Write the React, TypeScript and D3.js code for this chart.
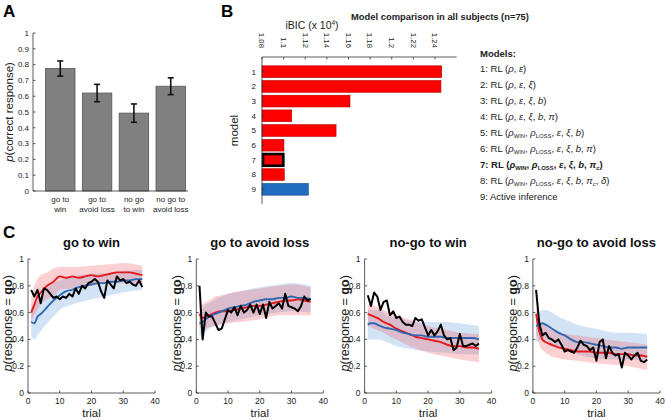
import React from 'react'
import * as d3 from 'd3'

// ---- panel A: accuracy per condition ----
const CAT_LINES_A = [['go to', 'win'], ['go to', 'avoid loss'], ['no go', 'to win'], ['no go to', 'avoid loss']]
const P_CORRECT = [0.775, 0.62, 0.493, 0.663]
const P_CORRECT_ERR = [0.048, 0.055, 0.058, 0.053]

// ---- panel B: model comparison ----
const MODELS = [1, 2, 3, 4, 5, 6, 7, 8, 9]
const IBIC = [1.2462, 1.2455, 1.1614, 1.1075, 1.1485, 1.1003, 1.0997, 1.1006, 1.1229]
const IBIC_TICKS = [1.08, 1.1, 1.12, 1.14, 1.16, 1.18, 1.2, 1.22, 1.24]
const BEST_MODEL = 7
const AI_MODEL = 9

type Seg = [string, string]
const MODEL_LABELS: Seg[][] = [
  [['1: RL (', ''], ['ρ', 'i'], [', ', ''], ['ε', 'i'], [')', '']],
  [['2: RL (', ''], ['ρ', 'i'], [', ', ''], ['ε', 'i'], [', ', ''], ['ξ', 'i'], [')', '']],
  [['3: RL (', ''], ['ρ', 'i'], [', ', ''], ['ε', 'i'], [', ', ''], ['ξ', 'i'], [', ', ''], ['b', 'i'], [')', '']],
  [['4: RL (', ''], ['ρ', 'i'], [', ', ''], ['ε', 'i'], [', ', ''], ['ξ', 'i'], [', ', ''], ['b', 'i'], [', ', ''], ['π', 'i'], [')', '']],
  [['5: RL (', ''], ['ρ', 'i'], ['WIN', 's'], [', ', ''], ['ρ', 'i'], ['LOSS', 's'], [', ', ''], ['ε', 'i'], [', ', ''], ['ξ', 'i'], [', ', ''], ['b', 'i'], [')', '']],
  [['6: RL (', ''], ['ρ', 'i'], ['WIN', 's'], [', ', ''], ['ρ', 'i'], ['LOSS', 's'], [', ', ''], ['ε', 'i'], [', ', ''], ['ξ', 'i'], [', ', ''], ['b', 'i'], [', ', ''], ['π', 'i'], [')', '']],
  [['7: RL (', ''], ['ρ', 'i'], ['WIN', 's'], [', ', ''], ['ρ', 'i'], ['LOSS', 's'], [', ', ''], ['ε', 'i'], [', ', ''], ['ξ', 'i'], [', ', ''], ['b', 'i'], [', ', ''], ['π', 'i'], ['c', 'si'], [')', '']],
  [['8: RL (', ''], ['ρ', 'i'], ['WIN', 's'], [', ', ''], ['ρ', 'i'], ['LOSS', 's'], [', ', ''], ['ε', 'i'], [', ', ''], ['ξ', 'i'], [', ', ''], ['b', 'i'], [', ', ''], ['π', 'i'], ['c', 'si'], [', ', ''], ['δ', 'i'], [')', '']],
  [['9: Active inference', '']],
]

// ---- panel C: p(go) over trials ----
const CONDITIONS = ['go to win', 'go to avoid loss', 'no-go to win', 'no-go to avoid loss']
const MODEL_T = [1, 2, 3, 4, 6, 8, 10, 12, 14, 16, 18, 20, 22, 24, 26, 28, 30, 32, 34, 36]
const BAND_T = [1, 2, 3, 4, 6, 8, 10, 14, 20, 26, 30, 36]

const DATA_GW = [0.77, 0.72, 0.77, 0.67, 0.78, 0.77, 0.74, 0.71, 0.72, 0.70, 0.72, 0.71, 0.74, 0.72, 0.78, 0.74, 0.80, 0.78, 0.82, 0.83, 0.85, 0.83, 0.76, 0.71, 0.84, 0.81, 0.78, 0.87, 0.84, 0.85, 0.82, 0.83, 0.81, 0.80, 0.84, 0.79]
const DATA_GAL = [0.80, 0.40, 0.60, 0.57, 0.57, 0.52, 0.47, 0.48, 0.55, 0.62, 0.60, 0.64, 0.58, 0.65, 0.60, 0.62, 0.66, 0.60, 0.66, 0.59, 0.66, 0.56, 0.68, 0.63, 0.65, 0.67, 0.63, 0.74, 0.65, 0.64, 0.63, 0.61, 0.65, 0.72, 0.69, 0.70]
const DATA_NGW = [0.73, 0.65, 0.75, 0.72, 0.62, 0.68, 0.69, 0.58, 0.61, 0.56, 0.57, 0.53, 0.51, 0.51, 0.50, 0.56, 0.54, 0.55, 0.49, 0.43, 0.47, 0.43, 0.46, 0.51, 0.43, 0.40, 0.41, 0.32, 0.34, 0.44, 0.35, 0.35, 0.36, 0.37, 0.35, 0.37]
const DATA_NGAL = [0.77, 0.52, 0.43, 0.45, 0.41, 0.40, 0.38, 0.40, 0.36, 0.31, 0.32, 0.31, 0.30, 0.34, 0.39, 0.36, 0.35, 0.32, 0.34, 0.24, 0.38, 0.40, 0.26, 0.35, 0.30, 0.28, 0.29, 0.19, 0.30, 0.28, 0.25, 0.28, 0.30, 0.24, 0.23, 0.25]

const RL_GW = [0.60, 0.66, 0.72, 0.75, 0.80, 0.83, 0.87, 0.86, 0.87, 0.86, 0.87, 0.88, 0.87, 0.88, 0.89, 0.90, 0.90, 0.90, 0.89, 0.88]
const RL_GAL = [0.59, 0.56, 0.57, 0.58, 0.60, 0.61, 0.61, 0.62, 0.63, 0.64, 0.65, 0.65, 0.66, 0.67, 0.68, 0.69, 0.69, 0.70, 0.69, 0.68]
const RL_NGW = [0.59, 0.58, 0.57, 0.56, 0.53, 0.51, 0.48, 0.46, 0.44, 0.42, 0.41, 0.40, 0.39, 0.38, 0.36, 0.35, 0.35, 0.34, 0.34, 0.33]
const RL_NGAL = [0.59, 0.46, 0.40, 0.38, 0.36, 0.34, 0.33, 0.32, 0.31, 0.31, 0.31, 0.30, 0.30, 0.30, 0.29, 0.29, 0.29, 0.28, 0.28, 0.27]

const AI_GW = [0.53, 0.52, 0.57, 0.59, 0.64, 0.69, 0.73, 0.76, 0.77, 0.79, 0.80, 0.81, 0.82, 0.82, 0.83, 0.83, 0.84, 0.84, 0.85, 0.85]
const AI_GAL = [0.52, 0.53, 0.55, 0.57, 0.59, 0.61, 0.63, 0.64, 0.65, 0.66, 0.68, 0.69, 0.70, 0.70, 0.71, 0.71, 0.72, 0.71, 0.71, 0.70]
const AI_NGW = [0.51, 0.52, 0.52, 0.51, 0.49, 0.48, 0.47, 0.45, 0.44, 0.43, 0.43, 0.42, 0.42, 0.42, 0.41, 0.41, 0.41, 0.41, 0.41, 0.40]
const AI_NGAL = [0.50, 0.51, 0.52, 0.51, 0.48, 0.45, 0.43, 0.40, 0.38, 0.38, 0.37, 0.36, 0.35, 0.34, 0.34, 0.33, 0.34, 0.34, 0.34, 0.34]

const RL_HI_GW = [0.70, 0.80, 0.85, 0.88, 0.90, 0.93, 0.94, 0.94, 0.95, 0.96, 0.97, 0.95]
const RL_LO_GW = [0.52, 0.58, 0.62, 0.66, 0.70, 0.72, 0.77, 0.78, 0.80, 0.82, 0.82, 0.81]
const RL_HI_GAL = [0.65, 0.66, 0.68, 0.69, 0.72, 0.73, 0.74, 0.76, 0.78, 0.80, 0.81, 0.79]
const RL_LO_GAL = [0.50, 0.47, 0.48, 0.49, 0.50, 0.51, 0.52, 0.53, 0.55, 0.58, 0.58, 0.58]
const RL_HI_NGW = [0.66, 0.66, 0.65, 0.64, 0.62, 0.60, 0.58, 0.55, 0.50, 0.47, 0.45, 0.44]
const RL_LO_NGW = [0.50, 0.49, 0.48, 0.47, 0.45, 0.42, 0.40, 0.35, 0.30, 0.27, 0.25, 0.23]
const RL_HI_NGAL = [0.64, 0.56, 0.52, 0.50, 0.47, 0.45, 0.44, 0.43, 0.41, 0.39, 0.38, 0.36]
const RL_LO_NGAL = [0.45, 0.36, 0.32, 0.30, 0.27, 0.26, 0.25, 0.24, 0.22, 0.21, 0.20, 0.17]

const AI_HI_GW = [0.64, 0.66, 0.69, 0.72, 0.78, 0.82, 0.84, 0.87, 0.89, 0.90, 0.91, 0.92]
const AI_LO_GW = [0.42, 0.40, 0.43, 0.46, 0.52, 0.57, 0.62, 0.66, 0.70, 0.73, 0.75, 0.77]
const AI_HI_GAL = [0.60, 0.63, 0.66, 0.67, 0.70, 0.72, 0.74, 0.76, 0.79, 0.81, 0.82, 0.80]
const AI_LO_GAL = [0.42, 0.44, 0.46, 0.48, 0.50, 0.52, 0.53, 0.55, 0.58, 0.60, 0.61, 0.60]
const AI_HI_NGW = [0.62, 0.62, 0.62, 0.62, 0.60, 0.57, 0.56, 0.54, 0.53, 0.53, 0.52, 0.50]
const AI_LO_NGW = [0.40, 0.40, 0.40, 0.40, 0.39, 0.37, 0.35, 0.33, 0.31, 0.30, 0.29, 0.29]
const AI_HI_NGAL = [0.60, 0.61, 0.62, 0.62, 0.60, 0.57, 0.55, 0.51, 0.48, 0.45, 0.45, 0.44]
const AI_LO_NGAL = [0.38, 0.39, 0.40, 0.40, 0.37, 0.35, 0.33, 0.29, 0.26, 0.25, 0.25, 0.24]

const PANELS_C = [
  { data: DATA_GW, rl: RL_GW, ai: AI_GW, rlHi: RL_HI_GW, rlLo: RL_LO_GW, aiHi: AI_HI_GW, aiLo: AI_LO_GW },
  { data: DATA_GAL, rl: RL_GAL, ai: AI_GAL, rlHi: RL_HI_GAL, rlLo: RL_LO_GAL, aiHi: AI_HI_GAL, aiLo: AI_LO_GAL },
  { data: DATA_NGW, rl: RL_NGW, ai: AI_NGW, rlHi: RL_HI_NGW, rlLo: RL_LO_NGW, aiHi: AI_HI_NGW, aiLo: AI_LO_NGW },
  { data: DATA_NGAL, rl: RL_NGAL, ai: AI_NGAL, rlHi: RL_HI_NGAL, rlLo: RL_LO_NGAL, aiHi: AI_HI_NGAL, aiLo: AI_LO_NGAL },
]

const FONT = '"Liberation Sans", Arial, Helvetica, sans-serif'
const AX = '#333'
const RED = '#e3191c'
const BLUE = '#2f68b0'

function SegText({ segs, x, y, size, bold }: { segs: Seg[]; x: number; y: number; size: number; bold?: boolean }) {
  let shift = 0
  return (
    <text x={x} y={y} fontSize={size} fontWeight={bold ? 'bold' : 'normal'} fill="#222">
      {segs.map(([t, k], i) => {
        const sub = k === 's' || k === 'si'
        const dy = (sub ? 2.5 : 0) - shift
        shift = sub ? 2.5 : 0
        return (
          <tspan key={i} dy={dy} fontStyle={k === 'i' || k === 'si' ? 'italic' : 'normal'} fontSize={sub ? size * 0.62 : size}>{t}</tspan>
        )
      })}
    </text>
  )
}

function PanelA() {
  const y = d3.scaleLinear().domain([0, 1]).range([191, 33])
  const x = d3.scaleBand<number>().domain(d3.range(P_CORRECT.length)).range([40, 191]).paddingInner(0.2).paddingOuter(0.15)
  const ticks = d3.range(0, 11).map(i => i / 10)
  const fmt = d3.format('.1~f')
  return (
    <g>
      {P_CORRECT.map((v, i) => (
        <rect key={i} x={x(i)} y={y(v)} width={x.bandwidth()} height={y(0) - y(v)} fill="#808080" stroke="#555" strokeWidth={0.8} />
      ))}
      {P_CORRECT.map((v, i) => {
        const cx = (x(i) as number) + x.bandwidth() / 2
        const e = P_CORRECT_ERR[i]
        return (
          <g key={i} stroke="#111" strokeWidth={1.6}>
            <line x1={cx} x2={cx} y1={y(v - e)} y2={y(v + e)} />
            <line x1={cx - 3} x2={cx + 3} y1={y(v - e)} y2={y(v - e)} />
            <line x1={cx - 3} x2={cx + 3} y1={y(v + e)} y2={y(v + e)} />
          </g>
        )
      })}
      <line x1={33} x2={33} y1={y(1)} y2={y(0)} stroke={AX} strokeWidth={0.8} />
      <line x1={33} x2={188} y1={y(0)} y2={y(0)} stroke={AX} strokeWidth={0.8} />
      {ticks.map(t => (
        <g key={t}>
          <line x1={33} x2={35.5} y1={y(t)} y2={y(t)} stroke={AX} strokeWidth={0.8} />
          <text x={29} y={y(t)} dy="0.35em" textAnchor="end" fontSize={8} fill="#222">{fmt(t)}</text>
        </g>
      ))}
      {CAT_LINES_A.map((lines, i) => (
        <text key={i} x={(x(i) as number) + x.bandwidth() / 2} y={202} textAnchor="middle" fontSize={8} fill="#222">
          <tspan x={(x(i) as number) + x.bandwidth() / 2} dy={0}>{lines[0]}</tspan>
          <tspan x={(x(i) as number) + x.bandwidth() / 2} dy={9.5}>{lines[1]}</tspan>
        </text>
      ))}
      <text transform={`translate(13,${(y(0) + y(1)) / 2}) rotate(-90)`} textAnchor="middle" fontSize={11.5} fill="#222">
        <tspan fontStyle="italic">p</tspan>(correct response)
      </text>
    </g>
  )
}

function PanelB() {
  const x = d3.scaleLinear().domain([1.08, 1.26]).range([262, 456.6])
  const y = d3.scaleLinear().domain([0, 10]).range([57, 204])
  const h = (y(1) - y(0)) * 0.8
  const fmt = d3.format('~g')
  return (
    <g>
      {IBIC.map((v, i) => {
        const m = MODELS[i]
        const best = m === BEST_MODEL
        return (
          <rect key={m} x={x(1.08) + (best ? 1 : 0)} y={y(m) - h / 2} width={x(v) - x(1.08) - (best ? 1 : 0)} height={h}
            fill={m === AI_MODEL ? '#1f6cbf' : '#ff0000'}
            stroke={best ? '#000' : m === AI_MODEL ? '#174f8c' : '#b40000'} strokeWidth={best ? 2.6 : 0.6} />
        )
      })}
      <line x1={x(1.08)} x2={x(1.26)} y1={57} y2={57} stroke={AX} strokeWidth={0.8} />
      <line x1={x(1.08)} x2={x(1.08)} y1={57} y2={204} stroke={AX} strokeWidth={0.8} />
      {IBIC_TICKS.map(t => (
        <g key={t}>
          <line x1={x(t)} x2={x(t)} y1={57} y2={59.5} stroke={AX} strokeWidth={0.8} />
          <text transform={`translate(${x(t)},48) rotate(90)`} textAnchor="end" dy="0.35em" fontSize={7.8} fill="#222">{fmt(t)}</text>
        </g>
      ))}
      {MODELS.map(m => (
        <g key={m}>
          <line x1={x(1.08)} x2={x(1.08) + 2.5} y1={y(m)} y2={y(m)} stroke={AX} strokeWidth={0.8} />
          <text x={256} y={y(m)} dy="0.35em" textAnchor="end" fontSize={8} fill="#222">{m}</text>
        </g>
      ))}
      <text x={312} y={29} textAnchor="middle" fontSize={10.5} fill="#222">
        iBIC (x 10<tspan fontSize={6.5} dy={-4}>4</tspan><tspan dy={4}>)</tspan>
      </text>
      <text transform={`translate(238,${y(5)}) rotate(-90)`} textAnchor="middle" fontSize={11.5} fill="#222">model</text>
      <text x={440} y={20} textAnchor="middle" fontSize={9.4} fontWeight="bold" fill="#222">Model comparison in all subjects (n=75)</text>
      <text x={480} y={56.5} fontSize={9.5} fontWeight="bold" fill="#222">Models:</text>
      {MODEL_LABELS.map((segs, i) => (
        <SegText key={i} segs={segs} x={480} y={71.5 + i * 16} size={9.5} bold={i + 1 === BEST_MODEL} />
      ))}
    </g>
  )
}

function PanelC({ idx }: { idx: number }) {
  const p = PANELS_C[idx]
  const left = 28 + idx * 168.3
  const x = d3.scaleLinear().domain([0, 40]).range([left, left + 127])
  const y = d3.scaleLinear().domain([0, 1]).range([393, 259])
  const band = (hi: number[], lo: number[]) =>
    d3.area<number>().x(i => x(BAND_T[i])).y0(i => y(lo[i])).y1(i => y(hi[i])).curve(d3.curveMonotoneX)(d3.range(BAND_T.length)) || ''
  const smooth = (v: number[]) =>
    d3.line<number>().x(i => x(MODEL_T[i])).y(i => y(v[i])).curve(d3.curveMonotoneX)(d3.range(MODEL_T.length)) || ''
  const raw = d3.line<number>().x((_, i) => x(i + 1)).y(v => y(v))(p.data) || ''
  const yt = [0, 0.2, 0.4, 0.6, 0.8, 1]
  const xt = [0, 10, 20, 30, 40]
  return (
    <g>
      <path d={band(p.aiHi, p.aiLo)} fill="rgb(130,178,228)" fillOpacity={0.36} />
      <path d={band(p.rlHi, p.rlLo)} fill="rgb(242,100,110)" fillOpacity={0.3} />
      <path d={smooth(p.rl)} fill="none" stroke={RED} strokeWidth={1.9} />
      <path d={smooth(p.ai)} fill="none" stroke={BLUE} strokeWidth={1.9} />
      <path d={raw} fill="none" stroke="#000" strokeWidth={2} strokeLinejoin="round" />
      <line x1={x(0)} x2={x(0)} y1={y(1)} y2={y(0)} stroke={AX} strokeWidth={0.8} />
      <line x1={x(0)} x2={x(40)} y1={y(0)} y2={y(0)} stroke={AX} strokeWidth={0.8} />
      {yt.map(t => (
        <g key={t}>
          <line x1={x(0)} x2={x(0) + 2.5} y1={y(t)} y2={y(t)} stroke={AX} strokeWidth={0.8} />
          <text x={x(0) - 4} y={y(t)} dy="0.35em" textAnchor="end" fontSize={8.5} fill="#222">{t}</text>
        </g>
      ))}
      {xt.map(t => (
        <g key={t}>
          <line x1={x(t)} x2={x(t)} y1={y(0)} y2={y(0) - 2.5} stroke={AX} strokeWidth={0.8} />
          <text x={x(t)} y={403.5} textAnchor="middle" fontSize={8.5} fill="#222">{t}</text>
        </g>
      ))}
      <text x={x(20)} y={417} textAnchor="middle" fontSize={11.5} fill="#222">trial</text>
      <text x={x(20)} y={247} textAnchor="middle" fontSize={13} fontWeight="bold" fill="#111">{CONDITIONS[idx]}</text>
      <text transform={`translate(${x(0) - 20},${y(0.52)}) rotate(-90)`} textAnchor="middle" dy="0.35em" fontSize={12.5} fill="#222">
        <tspan fontStyle="italic">p</tspan>(response = <tspan fontWeight="bold">go</tspan>)
      </text>
    </g>
  )
}

export default function App() {
  return (
    <div style={{ position: 'absolute', left: 0, top: 0 }}>
      <svg width={666} height={419} viewBox="0 0 666 419" style={{ display: 'block', background: '#fff', fontFamily: FONT }}>
        <rect width={666} height={419} fill="#fff" />
        <PanelA />
        <PanelB />
        {CONDITIONS.map((c, i) => <PanelC key={c} idx={i} />)}
        <text x={3} y={17} fontSize={17} fontWeight="bold" fill="#000">A</text>
        <text x={221} y={17} fontSize={17} fontWeight="bold" fill="#000">B</text>
        <text x={3} y={238} fontSize={17} fontWeight="bold" fill="#000">C</text>
      </svg>
    </div>
  )
}
